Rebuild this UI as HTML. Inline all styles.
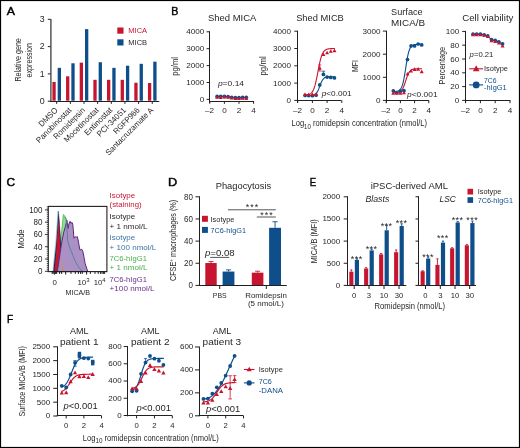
<!DOCTYPE html>
<html><head><meta charset="utf-8"><style>
html,body{margin:0;padding:0;background:#fff;}
svg{display:block;will-change:transform;fill:#231f20;}
text{font-family:"Liberation Sans",sans-serif;}
</style></head><body>
<svg width="520" height="448" viewBox="0 0 520 448">
<rect x="0.5" y="0.5" width="519" height="447" fill="#fff" stroke="#000" stroke-width="1.2"/>
<text x="6.8" y="15" font-size="10.1" textLength="8.2" lengthAdjust="spacingAndGlyphs" fill="#000" stroke="#000" stroke-width="0.4" stroke-linejoin="round">A</text>
<line x1="50.9" y1="19" x2="50.9" y2="101.8" stroke="#4a4a4a" stroke-width="1.4"/>
<line x1="47.8" y1="101.2" x2="50.6" y2="101.2" stroke="#231f20" stroke-width="1"/>
<text x="44.6" y="103.85" font-size="8.8" text-anchor="end">0</text>
<line x1="47.8" y1="73.9" x2="50.6" y2="73.9" stroke="#231f20" stroke-width="1"/>
<text x="44.6" y="76.55" font-size="8.8" text-anchor="end">1</text>
<line x1="47.8" y1="46.6" x2="50.6" y2="46.6" stroke="#231f20" stroke-width="1"/>
<text x="44.6" y="49.25" font-size="8.8" text-anchor="end">2</text>
<line x1="47.8" y1="19.3" x2="50.6" y2="19.3" stroke="#231f20" stroke-width="1"/>
<text x="44.6" y="21.95" font-size="8.8" text-anchor="end">3</text>
<line x1="50.1" y1="101.5" x2="159.3" y2="101.5" stroke="#231f20" stroke-width="1.05"/>
<line x1="56.7" y1="101.3" x2="56.7" y2="103.9" stroke="#231f20" stroke-width="1"/>
<rect x="52.4" y="81.94" width="3.3" height="18.76" fill="#c8152f"/>
<rect x="57.7" y="67.86" width="3.3" height="32.84" fill="#0d4e8b"/>
<text transform="translate(58.3 110.7) rotate(-45)" x="0" y="0" font-size="8.1" textLength="23.4" lengthAdjust="spacingAndGlyphs" text-anchor="end">DMSO</text>
<line x1="70.35" y1="101.3" x2="70.35" y2="103.9" stroke="#231f20" stroke-width="1"/>
<rect x="66.05" y="76.32" width="3.3" height="24.38" fill="#c8152f"/>
<rect x="71.35" y="63.28" width="3.3" height="37.42" fill="#0d4e8b"/>
<text transform="translate(71.95 110.7) rotate(-45)" x="0" y="0" font-size="8.1" textLength="46.4" lengthAdjust="spacingAndGlyphs" text-anchor="end">Panobinostat</text>
<line x1="84" y1="101.3" x2="84" y2="103.9" stroke="#231f20" stroke-width="1"/>
<rect x="79.7" y="62.67" width="3.3" height="38.03" fill="#c8152f"/>
<rect x="85" y="29.13" width="3.3" height="71.57" fill="#0d4e8b"/>
<text transform="translate(85.6 110.7) rotate(-45)" x="0" y="0" font-size="8.1" textLength="41" lengthAdjust="spacingAndGlyphs" text-anchor="end">Romidepsin</text>
<line x1="97.65" y1="101.3" x2="97.65" y2="103.9" stroke="#231f20" stroke-width="1"/>
<rect x="93.35" y="79.8" width="3.3" height="20.9" fill="#c8152f"/>
<rect x="98.65" y="62.21" width="3.3" height="38.49" fill="#0d4e8b"/>
<text transform="translate(99.25 110.7) rotate(-45)" x="0" y="0" font-size="8.1" textLength="45.5" lengthAdjust="spacingAndGlyphs" text-anchor="end">Mocetinostat</text>
<line x1="111.3" y1="101.3" x2="111.3" y2="103.9" stroke="#231f20" stroke-width="1"/>
<rect x="107" y="79.8" width="3.3" height="20.9" fill="#c8152f"/>
<rect x="112.3" y="67.86" width="3.3" height="32.84" fill="#0d4e8b"/>
<text transform="translate(112.9 110.7) rotate(-45)" x="0" y="0" font-size="8.1" textLength="35.8" lengthAdjust="spacingAndGlyphs" text-anchor="end">Entinostat</text>
<line x1="124.95" y1="101.3" x2="124.95" y2="103.9" stroke="#231f20" stroke-width="1"/>
<rect x="120.65" y="79.8" width="3.3" height="20.9" fill="#c8152f"/>
<rect x="125.95" y="65.7" width="3.3" height="35" fill="#0d4e8b"/>
<text transform="translate(126.55 110.7) rotate(-45)" x="0" y="0" font-size="8.1" textLength="37.4" lengthAdjust="spacingAndGlyphs" text-anchor="end">PCI-34051</text>
<line x1="138.6" y1="101.3" x2="138.6" y2="103.9" stroke="#231f20" stroke-width="1"/>
<rect x="134.3" y="82.74" width="3.3" height="17.96" fill="#c8152f"/>
<rect x="139.6" y="63.82" width="3.3" height="36.88" fill="#0d4e8b"/>
<text transform="translate(140.2 110.7) rotate(-45)" x="0" y="0" font-size="8.1" textLength="33.6" lengthAdjust="spacingAndGlyphs" text-anchor="end">RGFP966</text>
<line x1="152.25" y1="101.3" x2="152.25" y2="103.9" stroke="#231f20" stroke-width="1"/>
<rect x="147.95" y="83.01" width="3.3" height="17.69" fill="#c8152f"/>
<rect x="153.25" y="61.67" width="3.3" height="39.03" fill="#0d4e8b"/>
<text transform="translate(153.85 110.7) rotate(-45)" x="0" y="0" font-size="8.1" textLength="63.8" lengthAdjust="spacingAndGlyphs" text-anchor="end">Santacruzamate A</text>
<rect x="117.3" y="27.5" width="6.2" height="6.2" fill="#c8152f"/>
<rect x="117.3" y="39.3" width="6.2" height="6.2" fill="#0d4e8b"/>
<text x="128.3" y="33.4" font-size="7.4" textLength="18.8" lengthAdjust="spacingAndGlyphs" fill="#c8152f">MICA</text>
<text x="128.3" y="45.2" font-size="7.4" textLength="18.8" lengthAdjust="spacingAndGlyphs">MICB</text>
<text transform="translate(21.4 59.9) rotate(-90)" x="0" y="0" font-size="9.2" textLength="43.4" lengthAdjust="spacingAndGlyphs" text-anchor="middle">Relative gene</text>
<text transform="translate(31.9 60.2) rotate(-90)" x="0" y="0" font-size="9.2" textLength="34.4" lengthAdjust="spacingAndGlyphs" text-anchor="middle">expression</text>
<text x="171.2" y="15" font-size="10.1" textLength="7.1" lengthAdjust="spacingAndGlyphs" fill="#000" stroke="#000" stroke-width="0.4" stroke-linejoin="round">B</text>
<line x1="209.5" y1="31.3" x2="209.5" y2="102.8" stroke="#231f20" stroke-width="1.05"/>
<line x1="206.6" y1="99.4" x2="209.8" y2="99.4" stroke="#231f20" stroke-width="1"/>
<text x="204.2" y="102" font-size="8.1" text-anchor="end">0</text>
<line x1="206.6" y1="82.5" x2="209.8" y2="82.5" stroke="#231f20" stroke-width="1"/>
<text x="204.2" y="85.1" font-size="8.1" text-anchor="end">1000</text>
<line x1="206.6" y1="65.6" x2="209.8" y2="65.6" stroke="#231f20" stroke-width="1"/>
<text x="204.2" y="68.2" font-size="8.1" text-anchor="end">2000</text>
<line x1="206.6" y1="48.7" x2="209.8" y2="48.7" stroke="#231f20" stroke-width="1"/>
<text x="204.2" y="51.3" font-size="8.1" text-anchor="end">3000</text>
<line x1="206.6" y1="31.8" x2="209.8" y2="31.8" stroke="#231f20" stroke-width="1"/>
<text x="204.2" y="34.4" font-size="8.1" text-anchor="end">4000</text>
<line x1="209.3" y1="101.5" x2="254" y2="101.5" stroke="#231f20" stroke-width="1.05"/>
<line x1="209.8" y1="101.2" x2="209.8" y2="103.8" stroke="#231f20" stroke-width="1"/>
<text x="209.6" y="113.2" font-size="8.1" text-anchor="middle">&#8211;2</text>
<line x1="224.4" y1="101.2" x2="224.4" y2="103.8" stroke="#231f20" stroke-width="1"/>
<text x="224.4" y="113.2" font-size="8.1" text-anchor="middle">0</text>
<line x1="239" y1="101.2" x2="239" y2="103.8" stroke="#231f20" stroke-width="1"/>
<text x="239" y="113.2" font-size="8.1" text-anchor="middle">2</text>
<line x1="253.6" y1="101.2" x2="253.6" y2="103.8" stroke="#231f20" stroke-width="1"/>
<text x="253.6" y="113.2" font-size="8.1" text-anchor="middle">4</text>
<text x="232.2" y="21.1" font-size="9.9" textLength="48.5" lengthAdjust="spacingAndGlyphs" text-anchor="middle">Shed MICA</text>
<text transform="translate(178 66.4) rotate(-90)" x="0" y="0" font-size="9.6" textLength="18.8" lengthAdjust="spacingAndGlyphs" text-anchor="middle">pg/ml</text>
<text x="217.9" y="86.4" font-size="7.8" textLength="26.2" lengthAdjust="spacingAndGlyphs"><tspan font-style="italic">p</tspan>=0.14</text>
<path d="M217.1 96.44 L220.75 96.27 L224.4 96.44 L228.05 96.61 L231.7 97.29 L235.35 97.63 L239 97.63 L242.65 97.46 L246.3 97.29" fill="none" stroke="#0d4e8b" stroke-width="0.9" stroke-linejoin="round" stroke-linecap="round"/>
<path d="M217.1 96.87 L220.75 97.03 L224.4 96.53 L228.05 96.87 L231.7 97.54 L235.35 98.05 L239 98.05 L242.65 97.88 L246.3 98.05" fill="none" stroke="#c8152f" stroke-width="0.9" stroke-linejoin="round" stroke-linecap="round"/>
<circle cx="217.1" cy="96.44" r="1.85" fill="#0d4e8b"/>
<circle cx="220.75" cy="96.27" r="1.85" fill="#0d4e8b"/>
<circle cx="224.4" cy="96.44" r="1.85" fill="#0d4e8b"/>
<circle cx="228.05" cy="96.61" r="1.85" fill="#0d4e8b"/>
<circle cx="231.7" cy="97.29" r="1.85" fill="#0d4e8b"/>
<circle cx="235.35" cy="97.63" r="1.85" fill="#0d4e8b"/>
<circle cx="239" cy="97.63" r="1.85" fill="#0d4e8b"/>
<circle cx="242.65" cy="97.46" r="1.85" fill="#0d4e8b"/>
<circle cx="246.3" cy="97.29" r="1.85" fill="#0d4e8b"/>
<path d="M217.1 95.21L219.1 98.81L215.1 98.81Z" fill="#c8152f"/>
<path d="M220.75 95.37L222.75 98.97L218.75 98.97Z" fill="#c8152f"/>
<path d="M224.4 94.87L226.4 98.47L222.4 98.47Z" fill="#c8152f"/>
<path d="M228.05 95.21L230.05 98.81L226.05 98.81Z" fill="#c8152f"/>
<path d="M231.7 95.88L233.7 99.48L229.7 99.48Z" fill="#c8152f"/>
<path d="M235.35 96.39L237.35 99.99L233.35 99.99Z" fill="#c8152f"/>
<path d="M239 96.39L241 99.99L237 99.99Z" fill="#c8152f"/>
<path d="M242.65 96.22L244.65 99.82L240.65 99.82Z" fill="#c8152f"/>
<path d="M246.3 96.39L248.3 99.99L244.3 99.99Z" fill="#c8152f"/>
<line x1="297.5" y1="30.7" x2="297.5" y2="102.8" stroke="#231f20" stroke-width="1.05"/>
<line x1="294.3" y1="100.4" x2="297.5" y2="100.4" stroke="#231f20" stroke-width="1"/>
<text x="291" y="103" font-size="8.1" text-anchor="end">0</text>
<line x1="294.3" y1="83.1" x2="297.5" y2="83.1" stroke="#231f20" stroke-width="1"/>
<text x="291" y="85.7" font-size="8.1" text-anchor="end">1000</text>
<line x1="294.3" y1="65.8" x2="297.5" y2="65.8" stroke="#231f20" stroke-width="1"/>
<text x="291" y="68.4" font-size="8.1" text-anchor="end">2000</text>
<line x1="294.3" y1="48.5" x2="297.5" y2="48.5" stroke="#231f20" stroke-width="1"/>
<text x="291" y="51.1" font-size="8.1" text-anchor="end">3000</text>
<line x1="294.3" y1="31.2" x2="297.5" y2="31.2" stroke="#231f20" stroke-width="1"/>
<text x="291" y="33.8" font-size="8.1" text-anchor="end">4000</text>
<line x1="297" y1="100.5" x2="341.5" y2="100.5" stroke="#231f20" stroke-width="1.05"/>
<line x1="297.7" y1="100.4" x2="297.7" y2="103" stroke="#231f20" stroke-width="1"/>
<text x="297.5" y="113.2" font-size="8.1" text-anchor="middle">&#8211;2</text>
<line x1="312.4" y1="100.4" x2="312.4" y2="103" stroke="#231f20" stroke-width="1"/>
<text x="312.4" y="113.2" font-size="8.1" text-anchor="middle">0</text>
<line x1="327.1" y1="100.4" x2="327.1" y2="103" stroke="#231f20" stroke-width="1"/>
<text x="327.1" y="113.2" font-size="8.1" text-anchor="middle">2</text>
<line x1="341.8" y1="100.4" x2="341.8" y2="103" stroke="#231f20" stroke-width="1"/>
<text x="341.8" y="113.2" font-size="8.1" text-anchor="middle">4</text>
<text x="320" y="21.1" font-size="9.9" textLength="47.7" lengthAdjust="spacingAndGlyphs" text-anchor="middle">Shed MICB</text>
<text transform="translate(266.2 65.9) rotate(-90)" x="0" y="0" font-size="9.6" textLength="19.2" lengthAdjust="spacingAndGlyphs" text-anchor="middle">pg/ml</text>
<path d="M305.05 95.72 L305.54 95.72 L306.03 95.72 L306.52 95.72 L307.01 95.71 L307.5 95.71 L307.99 95.7 L308.48 95.7 L308.97 95.69 L309.46 95.67 L309.95 95.65 L310.44 95.63 L310.93 95.6 L311.42 95.56 L311.91 95.5 L312.4 95.43 L312.89 95.34 L313.38 95.22 L313.87 95.06 L314.36 94.86 L314.85 94.6 L315.34 94.27 L315.83 93.85 L316.32 93.33 L316.81 92.68 L317.3 91.91 L317.79 91 L318.28 89.95 L318.77 88.78 L319.26 87.52 L319.75 86.21 L320.24 84.91 L320.73 83.65 L321.22 82.48 L321.71 81.43 L322.2 80.52 L322.69 79.74 L323.18 79.1 L323.67 78.58 L324.16 78.16 L324.65 77.83 L325.14 77.57 L325.63 77.37 L326.12 77.21 L326.61 77.09 L327.1 77 L327.59 76.93 L328.08 76.87 L328.57 76.83 L329.06 76.8 L329.55 76.77 L330.04 76.76 L330.53 76.74 L331.02 76.73 L331.51 76.72 L332 76.72 L332.49 76.71 L332.98 76.71 L333.47 76.71 L333.96 76.71 L334.45 76.7" fill="none" stroke="#0d4e8b" stroke-width="1.1" stroke-linejoin="round" stroke-linecap="round"/>
<path d="M305.05 95.07 L305.54 95.04 L306.03 95 L306.52 94.95 L307.01 94.88 L307.5 94.8 L307.99 94.7 L308.48 94.58 L308.97 94.42 L309.46 94.23 L309.95 93.99 L310.44 93.69 L310.93 93.33 L311.42 92.89 L311.91 92.34 L312.4 91.68 L312.89 90.88 L313.38 89.92 L313.87 88.79 L314.36 87.45 L314.85 85.9 L315.34 84.13 L315.83 82.15 L316.32 79.95 L316.81 77.58 L317.3 75.08 L317.79 72.5 L318.28 69.91 L318.77 67.36 L319.26 64.92 L319.75 62.64 L320.24 60.54 L320.73 58.66 L321.22 57 L321.71 55.56 L322.2 54.33 L322.69 53.29 L323.18 52.41 L323.67 51.68 L324.16 51.08 L324.65 50.59 L325.14 50.19 L325.63 49.86 L326.12 49.6 L326.61 49.38 L327.1 49.21 L327.59 49.07 L328.08 48.96 L328.57 48.87 L329.06 48.79 L329.55 48.74 L330.04 48.69 L330.53 48.65 L331.02 48.62 L331.51 48.6 L332 48.58 L332.49 48.56 L332.98 48.55 L333.47 48.54 L333.96 48.53 L334.45 48.53" fill="none" stroke="#c8152f" stroke-width="1.1" stroke-linejoin="round" stroke-linecap="round"/>
<line x1="323.42" y1="74.4" x2="323.42" y2="71.16" stroke="#0d4e8b" stroke-width="0.8"/>
<line x1="321.62" y1="71.16" x2="325.22" y2="71.16" stroke="#0d4e8b" stroke-width="0.8"/>
<line x1="319.75" y1="67.7" x2="319.75" y2="64.94" stroke="#c8152f" stroke-width="0.8"/>
<line x1="318.25" y1="64.94" x2="321.25" y2="64.94" stroke="#c8152f" stroke-width="0.8"/>
<line x1="319.75" y1="67.7" x2="319.75" y2="70.99" stroke="#c8152f" stroke-width="0.8"/>
<line x1="318.25" y1="70.99" x2="321.25" y2="70.99" stroke="#c8152f" stroke-width="0.8"/>
<circle cx="305.05" cy="95.38" r="1.85" fill="#0d4e8b"/>
<circle cx="308.72" cy="95.56" r="1.85" fill="#0d4e8b"/>
<circle cx="312.4" cy="95.73" r="1.85" fill="#0d4e8b"/>
<circle cx="316.07" cy="95.21" r="1.85" fill="#0d4e8b"/>
<circle cx="319.75" cy="84.9" r="1.85" fill="#0d4e8b"/>
<circle cx="323.42" cy="74.4" r="1.85" fill="#0d4e8b"/>
<circle cx="327.1" cy="77.1" r="1.85" fill="#0d4e8b"/>
<circle cx="330.77" cy="77.39" r="1.85" fill="#0d4e8b"/>
<circle cx="334.45" cy="77.91" r="1.85" fill="#0d4e8b"/>
<path d="M305.05 92.51L307.05 96.11L303.05 96.11Z" fill="#c8152f"/>
<path d="M308.72 92.51L310.72 96.11L306.72 96.11Z" fill="#c8152f"/>
<path d="M312.4 92.44L314.4 96.04L310.4 96.04Z" fill="#c8152f"/>
<path d="M316.07 92.17L318.07 95.77L314.07 95.77Z" fill="#c8152f"/>
<path d="M319.75 66.04L321.75 69.64L317.75 69.64Z" fill="#c8152f"/>
<path d="M323.42 52.38L325.42 55.98L321.42 55.98Z" fill="#c8152f"/>
<path d="M327.1 50.65L329.1 54.25L325.1 54.25Z" fill="#c8152f"/>
<path d="M330.77 49.26L332.77 52.86L328.77 52.86Z" fill="#c8152f"/>
<path d="M334.45 48.57L336.45 52.17L332.45 52.17Z" fill="#c8152f"/>
<text x="321.7" y="96.4" font-size="7.8" textLength="30" lengthAdjust="spacingAndGlyphs"><tspan font-style="italic">p</tspan>&lt;0.001</text>
<line x1="386.5" y1="30.6" x2="386.5" y2="102.8" stroke="#231f20" stroke-width="1.05"/>
<line x1="382.9" y1="100.4" x2="386.1" y2="100.4" stroke="#231f20" stroke-width="1"/>
<text x="380.5" y="103" font-size="8.1" text-anchor="end">0</text>
<line x1="382.9" y1="77.3" x2="386.1" y2="77.3" stroke="#231f20" stroke-width="1"/>
<text x="380.5" y="79.9" font-size="8.1" text-anchor="end">1000</text>
<line x1="382.9" y1="54.2" x2="386.1" y2="54.2" stroke="#231f20" stroke-width="1"/>
<text x="380.5" y="56.8" font-size="8.1" text-anchor="end">2000</text>
<line x1="382.9" y1="31.1" x2="386.1" y2="31.1" stroke="#231f20" stroke-width="1"/>
<text x="380.5" y="33.7" font-size="8.1" text-anchor="end">3000</text>
<line x1="385.6" y1="100.5" x2="429" y2="100.5" stroke="#231f20" stroke-width="1.05"/>
<line x1="386.2" y1="100.6" x2="386.2" y2="103.2" stroke="#231f20" stroke-width="1"/>
<text x="386" y="113.2" font-size="8.1" text-anchor="middle">&#8211;2</text>
<line x1="400.4" y1="100.6" x2="400.4" y2="103.2" stroke="#231f20" stroke-width="1"/>
<text x="400.4" y="113.2" font-size="8.1" text-anchor="middle">0</text>
<line x1="414.6" y1="100.6" x2="414.6" y2="103.2" stroke="#231f20" stroke-width="1"/>
<text x="414.6" y="113.2" font-size="8.1" text-anchor="middle">2</text>
<line x1="428.8" y1="100.6" x2="428.8" y2="103.2" stroke="#231f20" stroke-width="1"/>
<text x="428.8" y="113.2" font-size="8.1" text-anchor="middle">4</text>
<text x="391.1" y="14.6" font-size="9.9" textLength="31.6" lengthAdjust="spacingAndGlyphs">Surface</text>
<text x="391.1" y="25.9" font-size="9.9" textLength="34" lengthAdjust="spacingAndGlyphs">MICA/B</text>
<text transform="translate(357.6 66) rotate(-90)" x="0" y="0" font-size="9.6" textLength="11.9" lengthAdjust="spacingAndGlyphs" text-anchor="middle">MFI</text>
<path d="M393.3 91.57 L393.77 91.56 L394.25 91.54 L394.72 91.51 L395.19 91.48 L395.67 91.44 L396.14 91.38 L396.61 91.31 L397.09 91.22 L397.56 91.1 L398.03 90.95 L398.51 90.75 L398.98 90.5 L399.45 90.18 L399.93 89.76 L400.4 89.23 L400.87 88.57 L401.35 87.73 L401.82 86.69 L402.29 85.42 L402.77 83.87 L403.24 82.03 L403.71 79.88 L404.19 77.42 L404.66 74.7 L405.13 71.77 L405.61 68.72 L406.08 65.63 L406.55 62.63 L407.03 59.8 L407.5 57.2 L407.97 54.9 L408.45 52.9 L408.92 51.21 L409.39 49.8 L409.87 48.65 L410.34 47.71 L410.81 46.97 L411.29 46.38 L411.76 45.91 L412.23 45.54 L412.71 45.25 L413.18 45.03 L413.65 44.86 L414.13 44.72 L414.6 44.62 L415.07 44.54 L415.55 44.48 L416.02 44.43 L416.49 44.39 L416.97 44.36 L417.44 44.34 L417.91 44.32 L418.39 44.31 L418.86 44.3 L419.33 44.29 L419.81 44.29 L420.28 44.28 L420.75 44.28 L421.23 44.28 L421.7 44.27" fill="none" stroke="#0d4e8b" stroke-width="1.1" stroke-linejoin="round" stroke-linecap="round"/>
<path d="M393.3 92.74 L393.77 92.73 L394.25 92.71 L394.72 92.7 L395.19 92.68 L395.67 92.65 L396.14 92.61 L396.61 92.57 L397.09 92.51 L397.56 92.43 L398.03 92.34 L398.51 92.22 L398.98 92.07 L399.45 91.88 L399.93 91.65 L400.4 91.35 L400.87 90.98 L401.35 90.53 L401.82 89.98 L402.29 89.31 L402.77 88.52 L403.24 87.59 L403.71 86.52 L404.19 85.32 L404.66 84 L405.13 82.59 L405.61 81.13 L406.08 79.66 L406.55 78.22 L407.03 76.86 L407.5 75.59 L407.97 74.46 L408.45 73.46 L408.92 72.6 L409.39 71.87 L409.87 71.26 L410.34 70.76 L410.81 70.35 L411.29 70.02 L411.76 69.76 L412.23 69.55 L412.71 69.38 L413.18 69.24 L413.65 69.14 L414.13 69.06 L414.6 68.99 L415.07 68.94 L415.55 68.9 L416.02 68.87 L416.49 68.84 L416.97 68.82 L417.44 68.81 L417.91 68.8 L418.39 68.79 L418.86 68.78 L419.33 68.77 L419.81 68.77 L420.28 68.77 L420.75 68.76 L421.23 68.76 L421.7 68.76" fill="none" stroke="#c8152f" stroke-width="1.1" stroke-linejoin="round" stroke-linecap="round"/>
<circle cx="393.3" cy="90.81" r="1.85" fill="#0d4e8b"/>
<circle cx="396.85" cy="92.78" r="1.85" fill="#0d4e8b"/>
<circle cx="400.4" cy="91.16" r="1.85" fill="#0d4e8b"/>
<circle cx="403.95" cy="90.7" r="1.85" fill="#0d4e8b"/>
<circle cx="407.5" cy="59.61" r="1.85" fill="#0d4e8b"/>
<circle cx="411.05" cy="45.88" r="1.85" fill="#0d4e8b"/>
<circle cx="414.6" cy="45.88" r="1.85" fill="#0d4e8b"/>
<circle cx="418.15" cy="44.01" r="1.85" fill="#0d4e8b"/>
<circle cx="421.7" cy="44.96" r="1.85" fill="#0d4e8b"/>
<path d="M393.3 91.12L395.3 94.72L391.3 94.72Z" fill="#c8152f"/>
<path d="M396.85 90.89L398.85 94.49L394.85 94.49Z" fill="#c8152f"/>
<path d="M400.4 91.12L402.4 94.72L398.4 94.72Z" fill="#c8152f"/>
<path d="M403.95 90.66L405.95 94.25L401.95 94.25Z" fill="#c8152f"/>
<path d="M407.5 71.94L409.5 75.54L405.5 75.54Z" fill="#c8152f"/>
<path d="M411.05 68.94L413.05 72.54L409.05 72.54Z" fill="#c8152f"/>
<path d="M414.6 67.32L416.6 70.92L412.6 70.92Z" fill="#c8152f"/>
<path d="M418.15 67.09L420.15 70.69L416.15 70.69Z" fill="#c8152f"/>
<path d="M421.7 69.54L423.7 73.14L419.7 73.14Z" fill="#c8152f"/>
<text x="407" y="97.4" font-size="7.8" textLength="30.6" lengthAdjust="spacingAndGlyphs"><tspan font-style="italic">p</tspan>&lt;0.001</text>
<line x1="465.5" y1="30.9" x2="465.5" y2="102.8" stroke="#231f20" stroke-width="1.05"/>
<line x1="462.2" y1="100.4" x2="465.4" y2="100.4" stroke="#231f20" stroke-width="1"/>
<text x="459.2" y="103" font-size="8.1" text-anchor="end">0</text>
<line x1="462.2" y1="86.6" x2="465.4" y2="86.6" stroke="#231f20" stroke-width="1"/>
<text x="459.2" y="89.2" font-size="8.1" text-anchor="end">20</text>
<line x1="462.2" y1="72.8" x2="465.4" y2="72.8" stroke="#231f20" stroke-width="1"/>
<text x="459.2" y="75.4" font-size="8.1" text-anchor="end">40</text>
<line x1="462.2" y1="59" x2="465.4" y2="59" stroke="#231f20" stroke-width="1"/>
<text x="459.2" y="61.6" font-size="8.1" text-anchor="end">60</text>
<line x1="462.2" y1="45.2" x2="465.4" y2="45.2" stroke="#231f20" stroke-width="1"/>
<text x="459.2" y="47.8" font-size="8.1" text-anchor="end">80</text>
<line x1="462.2" y1="31.4" x2="465.4" y2="31.4" stroke="#231f20" stroke-width="1"/>
<text x="459.2" y="34" font-size="8.1" text-anchor="end">100</text>
<line x1="464.9" y1="100.5" x2="510.4" y2="100.5" stroke="#231f20" stroke-width="1.05"/>
<line x1="465.6" y1="100.6" x2="465.6" y2="103.2" stroke="#231f20" stroke-width="1"/>
<text x="465.4" y="113.2" font-size="8.1" text-anchor="middle">&#8211;2</text>
<line x1="480.4" y1="100.6" x2="480.4" y2="103.2" stroke="#231f20" stroke-width="1"/>
<text x="480.4" y="113.2" font-size="8.1" text-anchor="middle">0</text>
<line x1="495.2" y1="100.6" x2="495.2" y2="103.2" stroke="#231f20" stroke-width="1"/>
<text x="495.2" y="113.2" font-size="8.1" text-anchor="middle">2</text>
<line x1="510" y1="100.6" x2="510" y2="103.2" stroke="#231f20" stroke-width="1"/>
<text x="510" y="113.2" font-size="8.1" text-anchor="middle">4</text>
<text x="487.8" y="21.1" font-size="9.9" textLength="51.3" lengthAdjust="spacingAndGlyphs" text-anchor="middle">Cell viability</text>
<text transform="translate(444.7 65.6) rotate(-90)" x="0" y="0" font-size="9.4" textLength="37.6" lengthAdjust="spacingAndGlyphs" text-anchor="middle">Percentage</text>
<path d="M473 34.16 L476.7 34.16 L480.4 34.16 L484.1 34.85 L487.8 35.95 L491.5 39.68 L495.2 40.37 L498.9 41.75 L502.6 43.82" fill="none" stroke="#0d4e8b" stroke-width="0.9" stroke-linejoin="round" stroke-linecap="round"/>
<path d="M473 34.23 L476.7 34.23 L480.4 34.23 L484.1 34.85 L487.8 35.95 L491.5 40.23 L495.2 40.99 L498.9 42.58 L502.6 45.68" fill="none" stroke="#c8152f" stroke-width="0.9" stroke-linejoin="round" stroke-linecap="round"/>
<circle cx="473" cy="34.16" r="1.85" fill="#0d4e8b"/>
<circle cx="476.7" cy="34.16" r="1.85" fill="#0d4e8b"/>
<circle cx="480.4" cy="34.16" r="1.85" fill="#0d4e8b"/>
<circle cx="484.1" cy="34.85" r="1.85" fill="#0d4e8b"/>
<circle cx="487.8" cy="35.95" r="1.85" fill="#0d4e8b"/>
<circle cx="491.5" cy="39.68" r="1.85" fill="#0d4e8b"/>
<circle cx="495.2" cy="40.37" r="1.85" fill="#0d4e8b"/>
<circle cx="498.9" cy="41.75" r="1.85" fill="#0d4e8b"/>
<circle cx="502.6" cy="43.82" r="1.85" fill="#0d4e8b"/>
<path d="M473 32.57L475 36.17L471 36.17Z" fill="#c8152f"/>
<path d="M476.7 32.57L478.7 36.17L474.7 36.17Z" fill="#c8152f"/>
<path d="M480.4 32.57L482.4 36.17L478.4 36.17Z" fill="#c8152f"/>
<path d="M484.1 33.19L486.1 36.79L482.1 36.79Z" fill="#c8152f"/>
<path d="M487.8 34.29L489.8 37.89L485.8 37.89Z" fill="#c8152f"/>
<path d="M491.5 38.57L493.5 42.17L489.5 42.17Z" fill="#c8152f"/>
<path d="M495.2 39.33L497.2 42.93L493.2 42.93Z" fill="#c8152f"/>
<path d="M498.9 40.92L500.9 44.52L496.9 44.52Z" fill="#c8152f"/>
<path d="M502.6 44.02L504.6 47.62L500.6 47.62Z" fill="#c8152f"/>
<text x="469.6" y="56.8" font-size="7.8" textLength="23.8" lengthAdjust="spacingAndGlyphs"><tspan font-style="italic">p</tspan>=0.21</text>
<line x1="469.2" y1="68.8" x2="483.1" y2="68.8" stroke="#c8152f" stroke-width="1.1"/>
<path d="M476.2 65.34L479.5 71.28L472.9 71.28Z" fill="#c8152f"/>
<text x="484" y="71.1" font-size="7.6" textLength="24" lengthAdjust="spacingAndGlyphs">Isotype</text>
<line x1="469.2" y1="84.9" x2="483.1" y2="84.9" stroke="#0d4e8b" stroke-width="1.1"/>
<circle cx="476.2" cy="84.9" r="3.4" fill="#0d4e8b"/>
<text x="484" y="82.7" font-size="7.4" textLength="12.5" lengthAdjust="spacingAndGlyphs" fill="#0d4e8b">7C6</text>
<text x="484" y="89.9" font-size="7.6" textLength="22.6" lengthAdjust="spacingAndGlyphs" fill="#0d4e8b">-hIgG1</text>
<text x="291.5" y="126.3" font-size="9.3" textLength="135.5" lengthAdjust="spacingAndGlyphs">Log<tspan font-size="7.4" dy="2.7">10</tspan><tspan dy="-2.7"> romidepsin concentration (nmol/L)</tspan></text>
<text x="6.6" y="186" font-size="10.1" textLength="8.6" lengthAdjust="spacingAndGlyphs" fill="#000" stroke="#000" stroke-width="0.4" stroke-linejoin="round">C</text>
<path d="M56.3 271.6 L58.6 255 L60.6 242 L62 228 L63.3 214.4 L64.5 215.7 L65.3 216.9 L66.1 218.9 L67 225 L68 240 L69 271.6Z" fill="#93dc8e" stroke="#3fae3f" stroke-width="0.7" stroke-linejoin="round"/>
<path d="M53.3 271.6 L55 255 L56.4 242 L57.5 225 L58.3 211.2 L59.2 220 L60.8 242 L61.6 260 L62 271.6Z" fill="#1c2452" stroke="#1c2452" stroke-width="0.5" stroke-linejoin="round"/>
<path d="M54.3 271.6 L55.5 260 L57 240 L57.9 227 L58.5 217.5 L59.4 230 L60.3 245 L61 260 L61.4 271.6Z" fill="#c8152f" stroke="none"/>
<path d="M57.3 271.6 L58.8 262 L60.5 250 L62 241 L63.8 232 L65.4 226.5 L66.9 220.1 L67.6 225 L68.1 228.5 L68.9 224 L70.1 221.3 L70.9 223.3 L72.1 222.5 L72.7 224 L73.3 229.3 L73.9 238.2 L75.3 236.6 L76.1 237.4 L77.1 236.4 L78.1 239.8 L79.9 250 L81 249.8 L81.7 249.2 L82.9 251.5 L85.2 263.7 L87.8 271.6Z" fill="#ab91c3" stroke="#5a2a7c" stroke-width="1" stroke-linejoin="round"/>
<path d="M61.2 263.3 L62.6 267.5 L64 271.6" fill="none" stroke="#e08a2c" stroke-width="0.8" stroke-linejoin="round"/>
<path d="M64.8 216.8 L66.1 219.3 L66.9 226.1 L67.3 232.5 L67.6 240.5 L69.5 247 L72 253 L74.2 259 L76.5 263.5 L78.5 267 L80.8 269.8 L83 271.6" fill="none" stroke="#4b7ea6" stroke-width="0.9" stroke-linejoin="round"/>
<path d="M52.8 271.6 L55.7 242 L58 212" fill="none" stroke="#6cc0e0" stroke-width="0.5" stroke-linejoin="round"/>
<rect x="48.3" y="206.4" width="58.6" height="65.2" fill="none" stroke="#231f20" stroke-width="1.1"/>
<line x1="44.9" y1="271.3" x2="48.3" y2="271.3" stroke="#444" stroke-width="1"/>
<text x="42.5" y="274.19" font-size="8.9" textLength="4.45" lengthAdjust="spacingAndGlyphs" text-anchor="end">0</text>
<line x1="44.9" y1="259.01" x2="48.3" y2="259.01" stroke="#444" stroke-width="1"/>
<text x="42.5" y="261.9" font-size="8.9" textLength="8.9" lengthAdjust="spacingAndGlyphs" text-anchor="end">20</text>
<line x1="44.9" y1="246.72" x2="48.3" y2="246.72" stroke="#444" stroke-width="1"/>
<text x="42.5" y="249.61" font-size="8.9" textLength="8.9" lengthAdjust="spacingAndGlyphs" text-anchor="end">40</text>
<line x1="44.9" y1="234.44" x2="48.3" y2="234.44" stroke="#444" stroke-width="1"/>
<text x="42.5" y="237.32" font-size="8.9" textLength="8.9" lengthAdjust="spacingAndGlyphs" text-anchor="end">60</text>
<line x1="44.9" y1="222.15" x2="48.3" y2="222.15" stroke="#444" stroke-width="1"/>
<text x="42.5" y="225.03" font-size="8.9" textLength="8.9" lengthAdjust="spacingAndGlyphs" text-anchor="end">80</text>
<line x1="44.9" y1="209.86" x2="48.3" y2="209.86" stroke="#444" stroke-width="1"/>
<text x="42.5" y="212.75" font-size="8.9" textLength="13.35" lengthAdjust="spacingAndGlyphs" text-anchor="end">100</text>
<line x1="47.3" y1="206.5" x2="47.3" y2="271.5" stroke="#231f20" stroke-width="1" stroke-dasharray="0.8 1.15"/>
<line x1="52.2" y1="271.6" x2="52.2" y2="273.9" stroke="#111" stroke-width="0.95"/>
<line x1="53.2" y1="271.6" x2="53.2" y2="273.9" stroke="#111" stroke-width="0.95"/>
<line x1="54.4" y1="271.6" x2="54.4" y2="274.6" stroke="#111" stroke-width="0.95"/>
<line x1="55.4" y1="271.6" x2="55.4" y2="273.9" stroke="#111" stroke-width="0.95"/>
<line x1="56.6" y1="271.6" x2="56.6" y2="273.9" stroke="#111" stroke-width="0.95"/>
<line x1="59.6" y1="271.6" x2="59.6" y2="273.9" stroke="#111" stroke-width="0.95"/>
<line x1="61.6" y1="271.6" x2="61.6" y2="273.9" stroke="#111" stroke-width="0.95"/>
<line x1="65.7" y1="271.6" x2="65.7" y2="274.6" stroke="#111" stroke-width="0.95"/>
<line x1="71" y1="271.6" x2="71" y2="273.9" stroke="#111" stroke-width="0.95"/>
<line x1="75.3" y1="271.6" x2="75.3" y2="273.9" stroke="#111" stroke-width="0.95"/>
<line x1="78.4" y1="271.6" x2="78.4" y2="273.9" stroke="#111" stroke-width="0.95"/>
<line x1="80.6" y1="271.6" x2="80.6" y2="273.9" stroke="#111" stroke-width="0.95"/>
<line x1="82.3" y1="271.6" x2="82.3" y2="273.9" stroke="#111" stroke-width="0.95"/>
<line x1="86.6" y1="271.6" x2="86.6" y2="274.6" stroke="#111" stroke-width="0.95"/>
<line x1="90.4" y1="271.6" x2="90.4" y2="273.9" stroke="#111" stroke-width="0.95"/>
<line x1="95" y1="271.6" x2="95" y2="273.9" stroke="#111" stroke-width="0.95"/>
<line x1="98.2" y1="271.6" x2="98.2" y2="273.9" stroke="#111" stroke-width="0.95"/>
<line x1="100.4" y1="271.6" x2="100.4" y2="273.9" stroke="#111" stroke-width="0.95"/>
<line x1="102" y1="271.6" x2="102" y2="273.9" stroke="#111" stroke-width="0.95"/>
<line x1="103.4" y1="271.6" x2="103.4" y2="273.9" stroke="#111" stroke-width="0.95"/>
<line x1="104.6" y1="271.6" x2="104.6" y2="273.9" stroke="#111" stroke-width="0.95"/>
<text x="54.8" y="285" font-size="7.9" text-anchor="middle">0</text>
<text x="77.4" y="285" font-size="7.9" textLength="12.2" lengthAdjust="spacingAndGlyphs">10<tspan font-size="6" dy="-3.2">3</tspan></text>
<text x="93.7" y="285" font-size="7.9" textLength="11.8" lengthAdjust="spacingAndGlyphs">10<tspan font-size="6" dy="-3.2">4</tspan></text>
<text x="77.8" y="295" font-size="7.9" textLength="24.6" lengthAdjust="spacingAndGlyphs" text-anchor="middle">MICA/B</text>
<text transform="translate(24.4 238.9) rotate(-90)" x="0" y="0" font-size="8.8" textLength="19" lengthAdjust="spacingAndGlyphs" text-anchor="middle">Mode</text>
<text x="109.6" y="197.8" font-size="7.6" textLength="25.6" lengthAdjust="spacingAndGlyphs" fill="#c8152f">Isotype</text>
<text x="109.6" y="206.6" font-size="7.6" textLength="32" lengthAdjust="spacingAndGlyphs" fill="#c8152f">(staining)</text>
<text x="109.6" y="218.9" font-size="7.6" textLength="25.6" lengthAdjust="spacingAndGlyphs">Isotype</text>
<text x="109.6" y="228.6" font-size="7.6" textLength="38" lengthAdjust="spacingAndGlyphs">+ 1 nmol/L</text>
<text x="109.6" y="240.2" font-size="7.6" textLength="25.6" lengthAdjust="spacingAndGlyphs" fill="#3d74a6">Isotype</text>
<text x="109.6" y="249.6" font-size="7.6" textLength="46.7" lengthAdjust="spacingAndGlyphs" fill="#3d74a6">+ 100 nmol/L</text>
<text x="109.6" y="260.9" font-size="7.6" textLength="37.3" lengthAdjust="spacingAndGlyphs" fill="#4cae4c">7C6-hIgG1</text>
<text x="109.6" y="270.4" font-size="7.6" textLength="38" lengthAdjust="spacingAndGlyphs" fill="#4cae4c">+ 1 nmol/L</text>
<text x="109.6" y="282" font-size="7.6" textLength="37.3" lengthAdjust="spacingAndGlyphs" fill="#6a2f86">7C6-hIgG1</text>
<text x="109.6" y="291.3" font-size="7.6" textLength="45" lengthAdjust="spacingAndGlyphs" fill="#6a2f86">+100 nmol/L</text>
<text x="168.1" y="185.9" font-size="10.1" textLength="9.2" lengthAdjust="spacingAndGlyphs" fill="#000" stroke="#000" stroke-width="0.4" stroke-linejoin="round">D</text>
<text x="215.7" y="189.4" font-size="9" textLength="55.5" lengthAdjust="spacingAndGlyphs">Phagocytosis</text>
<line x1="199.5" y1="196.3" x2="199.5" y2="285.9" stroke="#231f20" stroke-width="1.05"/>
<line x1="195.5" y1="285.4" x2="199.4" y2="285.4" stroke="#231f20" stroke-width="1"/>
<text x="193" y="288.49" font-size="9.2" textLength="4.45" lengthAdjust="spacingAndGlyphs" text-anchor="end">0</text>
<line x1="195.5" y1="263.25" x2="199.4" y2="263.25" stroke="#231f20" stroke-width="1"/>
<text x="193" y="266.34" font-size="9.2" textLength="8.9" lengthAdjust="spacingAndGlyphs" text-anchor="end">20</text>
<line x1="195.5" y1="241.1" x2="199.4" y2="241.1" stroke="#231f20" stroke-width="1"/>
<text x="193" y="244.19" font-size="9.2" textLength="8.9" lengthAdjust="spacingAndGlyphs" text-anchor="end">40</text>
<line x1="195.5" y1="218.95" x2="199.4" y2="218.95" stroke="#231f20" stroke-width="1"/>
<text x="193" y="222.04" font-size="9.2" textLength="8.9" lengthAdjust="spacingAndGlyphs" text-anchor="end">60</text>
<line x1="195.5" y1="196.8" x2="199.4" y2="196.8" stroke="#231f20" stroke-width="1"/>
<text x="193" y="199.89" font-size="9.2" textLength="8.9" lengthAdjust="spacingAndGlyphs" text-anchor="end">80</text>
<line x1="198.9" y1="285.5" x2="286.8" y2="285.5" stroke="#231f20" stroke-width="1.05"/>
<line x1="219.7" y1="285.4" x2="219.7" y2="289" stroke="#231f20" stroke-width="1"/>
<line x1="266.3" y1="285.4" x2="266.3" y2="289" stroke="#231f20" stroke-width="1"/>
<rect x="205.3" y="263.03" width="11.4" height="21.97" fill="#c8152f"/>
<line x1="211" y1="263.03" x2="211" y2="261.59" stroke="#c8152f" stroke-width="0.9"/>
<line x1="208.5" y1="261.59" x2="213.5" y2="261.59" stroke="#c8152f" stroke-width="0.9"/>
<rect x="222.6" y="271.56" width="11.8" height="13.44" fill="#0d4e8b"/>
<line x1="228.5" y1="271.56" x2="228.5" y2="269.89" stroke="#0d4e8b" stroke-width="0.9"/>
<line x1="226" y1="269.89" x2="231" y2="269.89" stroke="#0d4e8b" stroke-width="0.9"/>
<rect x="251.8" y="272.66" width="11.6" height="12.34" fill="#c8152f"/>
<line x1="257.6" y1="272.66" x2="257.6" y2="271.22" stroke="#c8152f" stroke-width="0.9"/>
<line x1="255.1" y1="271.22" x2="260.1" y2="271.22" stroke="#c8152f" stroke-width="0.9"/>
<rect x="269.1" y="227.81" width="11.9" height="57.19" fill="#0d4e8b"/>
<line x1="275.05" y1="227.81" x2="275.05" y2="221.72" stroke="#0d4e8b" stroke-width="0.9"/>
<line x1="272.45" y1="221.72" x2="277.65" y2="221.72" stroke="#0d4e8b" stroke-width="0.9"/>
<rect x="202" y="215.8" width="5.9" height="6" fill="#c8152f"/>
<rect x="202" y="226.9" width="5.9" height="6" fill="#0d4e8b"/>
<text x="210.5" y="221.6" font-size="7.7" textLength="23.9" lengthAdjust="spacingAndGlyphs">Isotype</text>
<text x="210.5" y="232.6" font-size="7.7" textLength="35.5" lengthAdjust="spacingAndGlyphs" fill="#0d4e8b">7C6-hIgG1</text>
<line x1="228" y1="209.8" x2="275.8" y2="209.8" stroke="#555" stroke-width="1"/>
<line x1="256.8" y1="217" x2="275.8" y2="217" stroke="#555" stroke-width="1"/>
<text x="247.5" y="210.32" font-size="9" text-anchor="middle">*</text>
<text x="252" y="210.32" font-size="9" text-anchor="middle">*</text>
<text x="256.5" y="210.32" font-size="9" text-anchor="middle">*</text>
<text x="261.9" y="217.72" font-size="9" text-anchor="middle">*</text>
<text x="266.4" y="217.72" font-size="9" text-anchor="middle">*</text>
<text x="270.9" y="217.72" font-size="9" text-anchor="middle">*</text>
<line x1="210.2" y1="257.4" x2="229.2" y2="257.4" stroke="#555" stroke-width="1"/>
<text x="205" y="256" font-size="8.6" textLength="29.7" lengthAdjust="spacingAndGlyphs"><tspan font-style="italic">p</tspan>=0.08</text>
<text x="219.7" y="297.8" font-size="7.7" textLength="13.8" lengthAdjust="spacingAndGlyphs" text-anchor="middle">PBS</text>
<text x="266" y="297.5" font-size="7.7" textLength="41.6" lengthAdjust="spacingAndGlyphs" text-anchor="middle">Romidepsin</text>
<text x="265.9" y="306.4" font-size="7.7" textLength="36" lengthAdjust="spacingAndGlyphs" text-anchor="middle">(5 nmol/L)</text>
<text transform="translate(175.8 240.45) rotate(-90)" x="0" y="0" font-size="9" textLength="81.3" lengthAdjust="spacingAndGlyphs" text-anchor="middle">CFSE<tspan font-size="6" dy="-3.2">+</tspan><tspan dy="3.2"> macrophages (%)</tspan></text>
<text x="309.8" y="186.4" font-size="10.1" textLength="6.4" lengthAdjust="spacingAndGlyphs" fill="#000" stroke="#000" stroke-width="0.4" stroke-linejoin="round">E</text>
<text x="370.7" y="188.8" font-size="9" textLength="77.2" lengthAdjust="spacingAndGlyphs">iPSC-derived AML</text>
<text x="365.4" y="202.1" font-size="8.6" font-style="italic" textLength="23.9" lengthAdjust="spacingAndGlyphs">Blasts</text>
<text x="439.6" y="202.1" font-size="8.6" font-style="italic" textLength="16.3" lengthAdjust="spacingAndGlyphs">LSC</text>
<line x1="347.5" y1="196.3" x2="347.5" y2="285.9" stroke="#231f20" stroke-width="1.05"/>
<line x1="343.7" y1="285.4" x2="347.7" y2="285.4" stroke="#231f20" stroke-width="1"/>
<text x="340.2" y="287.86" font-size="8" text-anchor="end">0</text>
<line x1="343.7" y1="263.25" x2="347.7" y2="263.25" stroke="#231f20" stroke-width="1"/>
<text x="340.2" y="265.71" font-size="8" text-anchor="end">500</text>
<line x1="343.7" y1="241.1" x2="347.7" y2="241.1" stroke="#231f20" stroke-width="1"/>
<text x="340.2" y="243.56" font-size="8" text-anchor="end">1000</text>
<line x1="343.7" y1="218.95" x2="347.7" y2="218.95" stroke="#231f20" stroke-width="1"/>
<text x="340.2" y="221.41" font-size="8" text-anchor="end">1500</text>
<line x1="343.7" y1="196.8" x2="347.7" y2="196.8" stroke="#231f20" stroke-width="1"/>
<text x="340.2" y="199.26" font-size="8" text-anchor="end">2000</text>
<line x1="347.2" y1="285.5" x2="406.3" y2="285.5" stroke="#231f20" stroke-width="1.05"/>
<line x1="354.2" y1="285.4" x2="354.2" y2="289" stroke="#231f20" stroke-width="1"/>
<text x="354.2" y="298.4" font-size="7.7" text-anchor="middle">0</text>
<rect x="349.3" y="271.67" width="4.1" height="13.33" fill="#c8152f"/>
<line x1="351.35" y1="271.67" x2="351.35" y2="269.89" stroke="#c8152f" stroke-width="0.9"/>
<line x1="350.25" y1="269.89" x2="352.45" y2="269.89" stroke="#c8152f" stroke-width="0.9"/>
<rect x="354.8" y="259.93" width="4.2" height="25.07" fill="#0d4e8b"/>
<line x1="356.9" y1="259.93" x2="356.9" y2="258.82" stroke="#0d4e8b" stroke-width="0.9"/>
<line x1="355.8" y1="258.82" x2="358" y2="258.82" stroke="#0d4e8b" stroke-width="0.9"/>
<text x="352.6" y="262.15" font-size="9" text-anchor="middle">*</text>
<text x="356.5" y="262.15" font-size="9" text-anchor="middle">*</text>
<text x="360.4" y="262.15" font-size="9" text-anchor="middle">*</text>
<line x1="369" y1="285.4" x2="369" y2="289" stroke="#231f20" stroke-width="1"/>
<text x="369" y="298.4" font-size="7.7" text-anchor="middle">3</text>
<rect x="364.1" y="268.48" width="4.1" height="16.52" fill="#c8152f"/>
<line x1="366.15" y1="268.48" x2="366.15" y2="267.68" stroke="#c8152f" stroke-width="0.9"/>
<line x1="365.05" y1="267.68" x2="367.25" y2="267.68" stroke="#c8152f" stroke-width="0.9"/>
<rect x="369.6" y="250.4" width="4.2" height="34.6" fill="#0d4e8b"/>
<line x1="371.7" y1="250.4" x2="371.7" y2="249.07" stroke="#0d4e8b" stroke-width="0.9"/>
<line x1="370.6" y1="249.07" x2="372.8" y2="249.07" stroke="#0d4e8b" stroke-width="0.9"/>
<text x="367.4" y="252.12" font-size="9" text-anchor="middle">*</text>
<text x="371.3" y="252.12" font-size="9" text-anchor="middle">*</text>
<text x="375.2" y="252.12" font-size="9" text-anchor="middle">*</text>
<line x1="384" y1="285.4" x2="384" y2="289" stroke="#231f20" stroke-width="1"/>
<text x="384" y="298.4" font-size="7.7" text-anchor="middle">10</text>
<rect x="379.1" y="254.39" width="4.1" height="30.61" fill="#c8152f"/>
<line x1="381.15" y1="254.39" x2="381.15" y2="253.5" stroke="#c8152f" stroke-width="0.9"/>
<line x1="380.05" y1="253.5" x2="382.25" y2="253.5" stroke="#c8152f" stroke-width="0.9"/>
<rect x="384.6" y="230.29" width="4.2" height="54.71" fill="#0d4e8b"/>
<line x1="386.7" y1="230.29" x2="386.7" y2="225.59" stroke="#0d4e8b" stroke-width="0.9"/>
<line x1="385.6" y1="225.59" x2="387.8" y2="225.59" stroke="#0d4e8b" stroke-width="0.9"/>
<text x="382.4" y="228.91" font-size="9" text-anchor="middle">*</text>
<text x="386.3" y="228.91" font-size="9" text-anchor="middle">*</text>
<text x="390.2" y="228.91" font-size="9" text-anchor="middle">*</text>
<line x1="399" y1="285.4" x2="399" y2="289" stroke="#231f20" stroke-width="1"/>
<text x="399" y="298.4" font-size="7.7" text-anchor="middle">30</text>
<rect x="394.1" y="252.17" width="4.1" height="32.82" fill="#c8152f"/>
<line x1="396.15" y1="252.17" x2="396.15" y2="249.96" stroke="#c8152f" stroke-width="0.9"/>
<line x1="395.05" y1="249.96" x2="397.25" y2="249.96" stroke="#c8152f" stroke-width="0.9"/>
<rect x="399.6" y="226.04" width="4.2" height="58.96" fill="#0d4e8b"/>
<line x1="401.7" y1="226.04" x2="401.7" y2="223.82" stroke="#0d4e8b" stroke-width="0.9"/>
<line x1="400.6" y1="223.82" x2="402.8" y2="223.82" stroke="#0d4e8b" stroke-width="0.9"/>
<text x="397.4" y="225.96" font-size="9" text-anchor="middle">*</text>
<text x="401.3" y="225.96" font-size="9" text-anchor="middle">*</text>
<text x="405.2" y="225.96" font-size="9" text-anchor="middle">*</text>
<line x1="418.5" y1="196.3" x2="418.5" y2="285.9" stroke="#231f20" stroke-width="1.05"/>
<line x1="415.5" y1="285.4" x2="418.9" y2="285.4" stroke="#231f20" stroke-width="1"/>
<line x1="415.5" y1="263.25" x2="418.9" y2="263.25" stroke="#231f20" stroke-width="1"/>
<line x1="415.5" y1="241.1" x2="418.9" y2="241.1" stroke="#231f20" stroke-width="1"/>
<line x1="415.5" y1="218.95" x2="418.9" y2="218.95" stroke="#231f20" stroke-width="1"/>
<line x1="415.5" y1="196.8" x2="418.9" y2="196.8" stroke="#231f20" stroke-width="1"/>
<line x1="418.4" y1="285.5" x2="476" y2="285.5" stroke="#231f20" stroke-width="1.05"/>
<line x1="425.5" y1="285.4" x2="425.5" y2="289" stroke="#231f20" stroke-width="1"/>
<text x="425.5" y="298.4" font-size="7.7" text-anchor="middle">0</text>
<rect x="420.6" y="271.22" width="4.1" height="13.78" fill="#c8152f"/>
<line x1="422.65" y1="271.22" x2="422.65" y2="270.78" stroke="#c8152f" stroke-width="0.9"/>
<line x1="421.55" y1="270.78" x2="423.75" y2="270.78" stroke="#c8152f" stroke-width="0.9"/>
<rect x="426.1" y="258.55" width="4.2" height="26.45" fill="#0d4e8b"/>
<line x1="428.2" y1="258.55" x2="428.2" y2="257.05" stroke="#0d4e8b" stroke-width="0.9"/>
<line x1="427.1" y1="257.05" x2="429.3" y2="257.05" stroke="#0d4e8b" stroke-width="0.9"/>
<text x="423.9" y="259.57" font-size="9" text-anchor="middle">*</text>
<text x="427.8" y="259.57" font-size="9" text-anchor="middle">*</text>
<text x="431.7" y="259.57" font-size="9" text-anchor="middle">*</text>
<line x1="440.3" y1="285.4" x2="440.3" y2="289" stroke="#231f20" stroke-width="1"/>
<text x="440.3" y="298.4" font-size="7.7" text-anchor="middle">3</text>
<rect x="435.4" y="264.84" width="4.1" height="20.16" fill="#c8152f"/>
<line x1="437.45" y1="264.84" x2="437.45" y2="258.82" stroke="#c8152f" stroke-width="0.9"/>
<line x1="436.35" y1="258.82" x2="438.55" y2="258.82" stroke="#c8152f" stroke-width="0.9"/>
<rect x="440.9" y="242.61" width="4.2" height="42.39" fill="#0d4e8b"/>
<line x1="443" y1="242.61" x2="443" y2="241.1" stroke="#0d4e8b" stroke-width="0.9"/>
<line x1="441.9" y1="241.1" x2="444.1" y2="241.1" stroke="#0d4e8b" stroke-width="0.9"/>
<text x="438.7" y="241.23" font-size="9" text-anchor="middle">*</text>
<text x="442.6" y="241.23" font-size="9" text-anchor="middle">*</text>
<text x="446.5" y="241.23" font-size="9" text-anchor="middle">*</text>
<line x1="455" y1="285.4" x2="455" y2="289" stroke="#231f20" stroke-width="1"/>
<text x="455" y="298.4" font-size="7.7" text-anchor="middle">10</text>
<rect x="450.1" y="248.32" width="4.1" height="36.68" fill="#c8152f"/>
<line x1="452.15" y1="248.32" x2="452.15" y2="247.74" stroke="#c8152f" stroke-width="0.9"/>
<line x1="451.05" y1="247.74" x2="453.25" y2="247.74" stroke="#c8152f" stroke-width="0.9"/>
<rect x="455.6" y="222.49" width="4.2" height="62.51" fill="#0d4e8b"/>
<line x1="457.7" y1="222.49" x2="457.7" y2="221.61" stroke="#0d4e8b" stroke-width="0.9"/>
<line x1="456.6" y1="221.61" x2="458.8" y2="221.61" stroke="#0d4e8b" stroke-width="0.9"/>
<text x="453.4" y="223.11" font-size="9" text-anchor="middle">*</text>
<text x="457.3" y="223.11" font-size="9" text-anchor="middle">*</text>
<text x="461.2" y="223.11" font-size="9" text-anchor="middle">*</text>
<line x1="469.7" y1="285.4" x2="469.7" y2="289" stroke="#231f20" stroke-width="1"/>
<text x="469.7" y="298.4" font-size="7.7" text-anchor="middle">30</text>
<rect x="464.8" y="245.31" width="4.1" height="39.69" fill="#c8152f"/>
<line x1="466.85" y1="245.31" x2="466.85" y2="244.64" stroke="#c8152f" stroke-width="0.9"/>
<line x1="465.75" y1="244.64" x2="467.95" y2="244.64" stroke="#c8152f" stroke-width="0.9"/>
<rect x="470.3" y="223.07" width="4.2" height="61.93" fill="#0d4e8b"/>
<line x1="472.4" y1="223.07" x2="472.4" y2="221.16" stroke="#0d4e8b" stroke-width="0.9"/>
<line x1="471.3" y1="221.16" x2="473.5" y2="221.16" stroke="#0d4e8b" stroke-width="0.9"/>
<text x="468.1" y="222.89" font-size="9" text-anchor="middle">*</text>
<text x="472" y="222.89" font-size="9" text-anchor="middle">*</text>
<text x="475.9" y="222.89" font-size="9" text-anchor="middle">*</text>
<rect x="467.5" y="188.8" width="5.6" height="5.7" fill="#c8152f"/>
<rect x="467.5" y="197.2" width="5.6" height="5.7" fill="#0d4e8b"/>
<text x="477.7" y="194.2" font-size="7.7" textLength="23.7" lengthAdjust="spacingAndGlyphs">Isotype</text>
<text x="477.7" y="202.6" font-size="7.7" textLength="35.3" lengthAdjust="spacingAndGlyphs" fill="#0d4e8b">7C6-hIgG1</text>
<text transform="translate(316.9 241.4) rotate(-90)" x="0" y="0" font-size="8.6" textLength="43.9" lengthAdjust="spacingAndGlyphs" text-anchor="middle">MICA/B (MFI)</text>
<text x="409.8" y="309.2" font-size="8.4" textLength="70.5" lengthAdjust="spacingAndGlyphs" text-anchor="middle">Romidepsin (nmol/L)</text>
<text x="7" y="323.1" font-size="10.1" textLength="6.2" lengthAdjust="spacingAndGlyphs" fill="#000" stroke="#000" stroke-width="0.4" stroke-linejoin="round">F</text>
<line x1="57.5" y1="346.3" x2="57.5" y2="416.3" stroke="#231f20" stroke-width="1.05"/>
<line x1="53.2" y1="416" x2="57.2" y2="416" stroke="#231f20" stroke-width="1"/>
<text x="50.2" y="418.36" font-size="8" text-anchor="end">0</text>
<line x1="53.2" y1="402.16" x2="57.2" y2="402.16" stroke="#231f20" stroke-width="1"/>
<text x="50.2" y="404.52" font-size="8" text-anchor="end">500</text>
<line x1="53.2" y1="388.32" x2="57.2" y2="388.32" stroke="#231f20" stroke-width="1"/>
<text x="50.2" y="390.68" font-size="8" text-anchor="end">1000</text>
<line x1="53.2" y1="374.48" x2="57.2" y2="374.48" stroke="#231f20" stroke-width="1"/>
<text x="50.2" y="376.84" font-size="8" text-anchor="end">1500</text>
<line x1="53.2" y1="360.64" x2="57.2" y2="360.64" stroke="#231f20" stroke-width="1"/>
<text x="50.2" y="363" font-size="8" text-anchor="end">2000</text>
<line x1="53.2" y1="346.8" x2="57.2" y2="346.8" stroke="#231f20" stroke-width="1"/>
<text x="50.2" y="349.16" font-size="8" text-anchor="end">2500</text>
<line x1="56.7" y1="415.5" x2="101.52" y2="415.5" stroke="#231f20" stroke-width="1.05"/>
<line x1="66.2" y1="415.8" x2="66.2" y2="418.4" stroke="#231f20" stroke-width="1"/>
<text x="66.2" y="428.1" font-size="7.7" text-anchor="middle">0</text>
<line x1="83.86" y1="415.8" x2="83.86" y2="418.4" stroke="#231f20" stroke-width="1"/>
<text x="83.86" y="428.1" font-size="7.7" text-anchor="middle">2</text>
<line x1="101.52" y1="415.8" x2="101.52" y2="418.4" stroke="#231f20" stroke-width="1"/>
<text x="101.52" y="428.1" font-size="7.7" text-anchor="middle">4</text>
<text x="79.2" y="333.6" font-size="9" text-anchor="middle">AML</text>
<text x="79.2" y="344.9" font-size="9" textLength="38.6" lengthAdjust="spacingAndGlyphs" text-anchor="middle">patient 1</text>
<line x1="75.03" y1="363.41" x2="75.03" y2="360.64" stroke="#0d4e8b" stroke-width="0.8"/>
<line x1="73.43" y1="360.64" x2="76.63" y2="360.64" stroke="#0d4e8b" stroke-width="0.8"/>
<line x1="75.03" y1="363.41" x2="75.03" y2="366.18" stroke="#0d4e8b" stroke-width="0.8"/>
<line x1="73.43" y1="366.18" x2="76.63" y2="366.18" stroke="#0d4e8b" stroke-width="0.8"/>
<path d="M61.79 387.05 L62.3 386.83 L62.82 386.58 L63.33 386.28 L63.85 385.94 L64.36 385.54 L64.88 385.08 L65.39 384.56 L65.91 383.97 L66.42 383.3 L66.94 382.55 L67.45 381.72 L67.97 380.81 L68.48 379.81 L69 378.73 L69.51 377.57 L70.03 376.36 L70.54 375.1 L71.06 373.8 L71.57 372.49 L72.09 371.18 L72.6 369.9 L73.12 368.65 L73.63 367.45 L74.15 366.32 L74.66 365.26 L75.18 364.29 L75.69 363.39 L76.21 362.59 L76.72 361.86 L77.24 361.22 L77.75 360.64 L78.27 360.14 L78.78 359.7 L79.3 359.32 L79.81 358.99 L80.33 358.71 L80.84 358.46 L81.36 358.25 L81.87 358.07 L82.39 357.92 L82.9 357.78 L83.42 357.67 L83.93 357.58 L84.45 357.49 L84.96 357.42 L85.48 357.37 L85.99 357.32 L86.51 357.27 L87.02 357.24 L87.54 357.21 L88.05 357.18 L88.57 357.16 L89.08 357.14 L89.6 357.13 L90.11 357.11 L90.63 357.1 L91.14 357.09 L91.66 357.09 L92.17 357.08 L92.69 357.07" fill="none" stroke="#0d4e8b" stroke-width="1.2" stroke-linejoin="round" stroke-linecap="round"/>
<path d="M61.79 391.32 L62.3 391.11 L62.82 390.87 L63.33 390.6 L63.85 390.29 L64.36 389.93 L64.88 389.52 L65.39 389.06 L65.91 388.55 L66.42 387.99 L66.94 387.37 L67.45 386.7 L67.97 385.99 L68.48 385.25 L69 384.47 L69.51 383.68 L70.03 382.88 L70.54 382.09 L71.06 381.32 L71.57 380.58 L72.09 379.87 L72.6 379.21 L73.12 378.61 L73.63 378.05 L74.15 377.54 L74.66 377.09 L75.18 376.69 L75.69 376.34 L76.21 376.03 L76.72 375.77 L77.24 375.53 L77.75 375.33 L78.27 375.16 L78.78 375.02 L79.3 374.89 L79.81 374.78 L80.33 374.69 L80.84 374.62 L81.36 374.55 L81.87 374.5 L82.39 374.45 L82.9 374.41 L83.42 374.38 L83.93 374.35 L84.45 374.33 L84.96 374.31 L85.48 374.29 L85.99 374.28 L86.51 374.26 L87.02 374.26 L87.54 374.25 L88.05 374.24 L88.57 374.23 L89.08 374.23 L89.6 374.22 L90.11 374.22 L90.63 374.22 L91.14 374.22 L91.66 374.21 L92.17 374.21 L92.69 374.21" fill="none" stroke="#c8152f" stroke-width="1.2" stroke-linejoin="round" stroke-linecap="round"/>
<circle cx="61.79" cy="385.83" r="1.9" fill="#0d4e8b"/>
<circle cx="66.2" cy="387.49" r="1.9" fill="#0d4e8b"/>
<circle cx="70.62" cy="374.48" r="1.9" fill="#0d4e8b"/>
<circle cx="75.03" cy="362.85" r="1.9" fill="#0d4e8b"/>
<circle cx="79.45" cy="355.1" r="1.9" fill="#0d4e8b"/>
<circle cx="83.86" cy="358.15" r="1.9" fill="#0d4e8b"/>
<circle cx="88.28" cy="358.56" r="1.9" fill="#0d4e8b"/>
<circle cx="92.69" cy="362.02" r="1.9" fill="#0d4e8b"/>
<path d="M61.79 390.65L63.94 394.52L59.64 394.52Z" fill="#c8152f"/>
<path d="M66.2 390.37L68.35 394.24L64.05 394.24Z" fill="#c8152f"/>
<path d="M70.62 379.3L72.77 383.17L68.47 383.17Z" fill="#c8152f"/>
<path d="M75.03 370.44L77.18 374.31L72.88 374.31Z" fill="#c8152f"/>
<path d="M79.45 374.32L81.6 378.19L77.3 378.19Z" fill="#c8152f"/>
<path d="M83.86 374.04L86.01 377.91L81.71 377.91Z" fill="#c8152f"/>
<path d="M88.28 375.15L90.43 379.02L86.12 379.02Z" fill="#c8152f"/>
<path d="M92.69 372.1L94.84 375.97L90.54 375.97Z" fill="#c8152f"/>
<rect x="77.75" y="351.78" width="3.4" height="6.64" fill="#0d4e8b"/>
<rect x="90.99" y="359.81" width="3.4" height="5.54" fill="#0d4e8b"/>
<text x="63.4" y="408.8" font-size="9.4" textLength="34.3" lengthAdjust="spacingAndGlyphs"><tspan font-style="italic">p</tspan>&lt;0.001</text>
<line x1="127.5" y1="346.04" x2="127.5" y2="416.3" stroke="#231f20" stroke-width="1.05"/>
<line x1="123.7" y1="415.5" x2="127.7" y2="415.5" stroke="#231f20" stroke-width="1"/>
<text x="121.6" y="417.86" font-size="8" text-anchor="end">0</text>
<line x1="123.7" y1="398.26" x2="127.7" y2="398.26" stroke="#231f20" stroke-width="1"/>
<text x="121.6" y="400.62" font-size="8" text-anchor="end">200</text>
<line x1="123.7" y1="381.02" x2="127.7" y2="381.02" stroke="#231f20" stroke-width="1"/>
<text x="121.6" y="383.38" font-size="8" text-anchor="end">400</text>
<line x1="123.7" y1="363.78" x2="127.7" y2="363.78" stroke="#231f20" stroke-width="1"/>
<text x="121.6" y="366.14" font-size="8" text-anchor="end">600</text>
<line x1="123.7" y1="346.54" x2="127.7" y2="346.54" stroke="#231f20" stroke-width="1"/>
<text x="121.6" y="348.9" font-size="8" text-anchor="end">800</text>
<line x1="127.2" y1="415.5" x2="172.32" y2="415.5" stroke="#231f20" stroke-width="1.05"/>
<line x1="136.6" y1="415.8" x2="136.6" y2="418.4" stroke="#231f20" stroke-width="1"/>
<text x="136.6" y="428.1" font-size="7.7" text-anchor="middle">0</text>
<line x1="154.46" y1="415.8" x2="154.46" y2="418.4" stroke="#231f20" stroke-width="1"/>
<text x="154.46" y="428.1" font-size="7.7" text-anchor="middle">2</text>
<line x1="172.32" y1="415.8" x2="172.32" y2="418.4" stroke="#231f20" stroke-width="1"/>
<text x="172.32" y="428.1" font-size="7.7" text-anchor="middle">4</text>
<text x="150.2" y="333.6" font-size="9" text-anchor="middle">AML</text>
<text x="150.2" y="344.9" font-size="9" textLength="38.6" lengthAdjust="spacingAndGlyphs" text-anchor="middle">patient 2</text>
<line x1="145.53" y1="362.57" x2="145.53" y2="358.61" stroke="#0d4e8b" stroke-width="0.8"/>
<line x1="143.93" y1="358.61" x2="147.13" y2="358.61" stroke="#0d4e8b" stroke-width="0.8"/>
<path d="M132.13 390.14 L132.66 389.95 L133.18 389.73 L133.7 389.45 L134.22 389.11 L134.74 388.71 L135.26 388.22 L135.78 387.63 L136.3 386.94 L136.82 386.12 L137.34 385.17 L137.87 384.08 L138.39 382.85 L138.91 381.47 L139.43 379.97 L139.95 378.36 L140.47 376.67 L140.99 374.93 L141.51 373.19 L142.03 371.48 L142.55 369.85 L143.07 368.31 L143.6 366.9 L144.12 365.62 L144.64 364.49 L145.16 363.5 L145.68 362.65 L146.2 361.92 L146.72 361.31 L147.24 360.79 L147.76 360.36 L148.28 360.01 L148.8 359.72 L149.33 359.48 L149.85 359.28 L150.37 359.12 L150.89 358.99 L151.41 358.88 L151.93 358.8 L152.45 358.73 L152.97 358.67 L153.49 358.63 L154.01 358.59 L154.53 358.56 L155.06 358.54 L155.58 358.52 L156.1 358.5 L156.62 358.49 L157.14 358.48 L157.66 358.47 L158.18 358.46 L158.7 358.46 L159.22 358.45 L159.74 358.45 L160.26 358.45 L160.79 358.45 L161.31 358.44 L161.83 358.44 L162.35 358.44 L162.87 358.44 L163.39 358.44" fill="none" stroke="#0d4e8b" stroke-width="1.2" stroke-linejoin="round" stroke-linecap="round"/>
<path d="M132.13 388.3 L132.66 388.19 L133.18 388.07 L133.7 387.91 L134.22 387.73 L134.74 387.51 L135.26 387.24 L135.78 386.93 L136.3 386.56 L136.82 386.13 L137.34 385.62 L137.87 385.03 L138.39 384.37 L138.91 383.61 L139.43 382.77 L139.95 381.86 L140.47 380.87 L140.99 379.82 L141.51 378.73 L142.03 377.63 L142.55 376.53 L143.07 375.45 L143.6 374.42 L144.12 373.45 L144.64 372.55 L145.16 371.74 L145.68 371.01 L146.2 370.37 L146.72 369.8 L147.24 369.32 L147.76 368.9 L148.28 368.55 L148.8 368.25 L149.33 368 L149.85 367.79 L150.37 367.62 L150.89 367.47 L151.41 367.35 L151.93 367.25 L152.45 367.17 L152.97 367.1 L153.49 367.05 L154.01 367 L154.53 366.97 L155.06 366.93 L155.58 366.91 L156.1 366.89 L156.62 366.87 L157.14 366.86 L157.66 366.85 L158.18 366.84 L158.7 366.83 L159.22 366.82 L159.74 366.82 L160.26 366.82 L160.79 366.81 L161.31 366.81 L161.83 366.81 L162.35 366.81 L162.87 366.8 L163.39 366.8" fill="none" stroke="#c8152f" stroke-width="1.2" stroke-linejoin="round" stroke-linecap="round"/>
<circle cx="132.13" cy="391.28" r="1.9" fill="#0d4e8b"/>
<circle cx="136.6" cy="390.85" r="1.9" fill="#0d4e8b"/>
<circle cx="141.06" cy="373.87" r="1.9" fill="#0d4e8b"/>
<circle cx="145.53" cy="362.57" r="1.9" fill="#0d4e8b"/>
<circle cx="150" cy="356.02" r="1.9" fill="#0d4e8b"/>
<circle cx="154.46" cy="358.69" r="1.9" fill="#0d4e8b"/>
<circle cx="158.92" cy="360.76" r="1.9" fill="#0d4e8b"/>
<circle cx="163.39" cy="364.9" r="1.9" fill="#0d4e8b"/>
<path d="M132.13 386.44L134.28 390.31L129.98 390.31Z" fill="#c8152f"/>
<path d="M136.6 386.44L138.75 390.31L134.45 390.31Z" fill="#c8152f"/>
<path d="M141.06 379.2L143.22 383.07L138.91 383.07Z" fill="#c8152f"/>
<path d="M145.53 370.58L147.68 374.45L143.38 374.45Z" fill="#c8152f"/>
<path d="M150 363.08L152.15 366.95L147.84 366.95Z" fill="#c8152f"/>
<path d="M154.46 367.04L156.61 370.91L152.31 370.91Z" fill="#c8152f"/>
<path d="M158.92 368.51L161.07 372.38L156.77 372.38Z" fill="#c8152f"/>
<path d="M163.39 370.58L165.54 374.45L161.24 374.45Z" fill="#c8152f"/>
<text x="136.6" y="411.3" font-size="9.4" textLength="34.3" lengthAdjust="spacingAndGlyphs"><tspan font-style="italic">p</tspan>&lt;0.001</text>
<line x1="199.5" y1="346.48" x2="199.5" y2="416.3" stroke="#231f20" stroke-width="1.05"/>
<line x1="195" y1="415.8" x2="199" y2="415.8" stroke="#231f20" stroke-width="1"/>
<text x="193.3" y="418.16" font-size="8" text-anchor="end">0</text>
<line x1="195" y1="392.86" x2="199" y2="392.86" stroke="#231f20" stroke-width="1"/>
<text x="193.3" y="395.22" font-size="8" text-anchor="end">200</text>
<line x1="195" y1="369.92" x2="199" y2="369.92" stroke="#231f20" stroke-width="1"/>
<text x="193.3" y="372.28" font-size="8" text-anchor="end">400</text>
<line x1="195" y1="346.98" x2="199" y2="346.98" stroke="#231f20" stroke-width="1"/>
<text x="193.3" y="349.34" font-size="8" text-anchor="end">600</text>
<line x1="198.5" y1="415.5" x2="243.5" y2="415.5" stroke="#231f20" stroke-width="1.05"/>
<line x1="207.9" y1="415.8" x2="207.9" y2="418.4" stroke="#231f20" stroke-width="1"/>
<text x="207.9" y="428.1" font-size="7.7" text-anchor="middle">0</text>
<line x1="225.7" y1="415.8" x2="225.7" y2="418.4" stroke="#231f20" stroke-width="1"/>
<text x="225.7" y="428.1" font-size="7.7" text-anchor="middle">2</text>
<line x1="243.5" y1="415.8" x2="243.5" y2="418.4" stroke="#231f20" stroke-width="1"/>
<text x="243.5" y="428.1" font-size="7.7" text-anchor="middle">4</text>
<text x="221.9" y="333.6" font-size="9" text-anchor="middle">AML</text>
<text x="221.9" y="344.9" font-size="9" textLength="38.6" lengthAdjust="spacingAndGlyphs" text-anchor="middle">patient 3</text>
<line x1="230.15" y1="387.93" x2="230.15" y2="375.77" stroke="#c8152f" stroke-width="0.8"/>
<line x1="228.35" y1="375.77" x2="231.95" y2="375.77" stroke="#c8152f" stroke-width="0.8"/>
<line x1="230.15" y1="387.93" x2="230.15" y2="398.94" stroke="#c8152f" stroke-width="0.8"/>
<line x1="228.35" y1="398.94" x2="231.95" y2="398.94" stroke="#c8152f" stroke-width="0.8"/>
<line x1="234.6" y1="378.98" x2="234.6" y2="375.66" stroke="#c8152f" stroke-width="0.8"/>
<line x1="232.8" y1="375.66" x2="236.4" y2="375.66" stroke="#c8152f" stroke-width="0.8"/>
<line x1="234.6" y1="378.98" x2="234.6" y2="382.54" stroke="#c8152f" stroke-width="0.8"/>
<line x1="232.8" y1="382.54" x2="236.4" y2="382.54" stroke="#c8152f" stroke-width="0.8"/>
<path d="M203.45 398.94 C204.19 398.84 206.42 398.92 207.9 398.37 C209.38 397.81 210.87 396.87 212.35 395.61 C213.83 394.35 215.32 392.69 216.8 390.8 C218.28 388.9 219.77 386.82 221.25 384.26 C222.73 381.7 224.22 378.52 225.7 375.43 C227.18 372.33 228.67 368.93 230.15 365.68 C231.63 362.43 233.86 357.55 234.6 355.93" fill="none" stroke="#0d4e8b" stroke-width="1.2" stroke-linecap="round"/>
<path d="M203.45 401.96 L203.97 401.9 L204.49 401.84 L205.01 401.77 L205.53 401.69 L206.05 401.59 L206.56 401.48 L207.08 401.34 L207.6 401.19 L208.12 401.02 L208.64 400.81 L209.16 400.58 L209.68 400.32 L210.2 400.01 L210.72 399.67 L211.24 399.29 L211.76 398.86 L212.28 398.38 L212.8 397.85 L213.31 397.27 L213.83 396.65 L214.35 395.98 L214.87 395.27 L215.39 394.53 L215.91 393.76 L216.43 392.97 L216.95 392.17 L217.47 391.38 L217.99 390.6 L218.51 389.85 L219.03 389.12 L219.54 388.44 L220.06 387.79 L220.58 387.19 L221.1 386.65 L221.62 386.15 L222.14 385.69 L222.66 385.29 L223.18 384.93 L223.7 384.61 L224.22 384.33 L224.74 384.08 L225.25 383.87 L225.77 383.68 L226.29 383.52 L226.81 383.38 L227.33 383.26 L227.85 383.16 L228.37 383.07 L228.89 382.99 L229.41 382.92 L229.93 382.87 L230.45 382.82 L230.97 382.78 L231.49 382.74 L232 382.71 L232.52 382.69 L233.04 382.66 L233.56 382.64 L234.08 382.63 L234.6 382.62" fill="none" stroke="#c8152f" stroke-width="1.2" stroke-linejoin="round" stroke-linecap="round"/>
<circle cx="203.45" cy="398.94" r="1.9" fill="#0d4e8b"/>
<circle cx="207.9" cy="398.6" r="1.9" fill="#0d4e8b"/>
<circle cx="212.35" cy="393.66" r="1.9" fill="#0d4e8b"/>
<circle cx="216.8" cy="387.35" r="1.9" fill="#0d4e8b"/>
<circle cx="221.25" cy="383" r="1.9" fill="#0d4e8b"/>
<circle cx="225.7" cy="375.54" r="1.9" fill="#0d4e8b"/>
<circle cx="230.15" cy="366.02" r="1.9" fill="#0d4e8b"/>
<circle cx="234.6" cy="355.93" r="1.9" fill="#0d4e8b"/>
<path d="M203.45 400.67L205.6 404.54L201.3 404.54Z" fill="#c8152f"/>
<path d="M207.9 400.67L210.05 404.54L205.75 404.54Z" fill="#c8152f"/>
<path d="M212.35 397.92L214.5 401.79L210.2 401.79Z" fill="#c8152f"/>
<path d="M216.8 392.19L218.95 396.06L214.65 396.06Z" fill="#c8152f"/>
<path d="M221.25 389.2L223.4 393.07L219.1 393.07Z" fill="#c8152f"/>
<path d="M225.7 384.39L227.85 388.26L223.55 388.26Z" fill="#c8152f"/>
<path d="M230.15 386.11L232.3 389.98L228 389.98Z" fill="#c8152f"/>
<path d="M234.6 377.16L236.75 381.03L232.45 381.03Z" fill="#c8152f"/>
<text x="205.9" y="411.6" font-size="9.4" textLength="34.3" lengthAdjust="spacingAndGlyphs"><tspan font-style="italic">p</tspan>&lt;0.001</text>
<line x1="243.9" y1="369.5" x2="254.5" y2="369.5" stroke="#c8152f" stroke-width="1.1"/>
<path d="M249.2 366.69L251.8 371.37L246.6 371.37Z" fill="#c8152f"/>
<text x="258.7" y="372.2" font-size="7.7" textLength="24.3" lengthAdjust="spacingAndGlyphs">Isotype</text>
<line x1="243.9" y1="382.9" x2="254.5" y2="382.9" stroke="#0d4e8b" stroke-width="1.1"/>
<circle cx="249.2" cy="382.9" r="2.6" fill="#0d4e8b"/>
<text x="258.7" y="384" font-size="7.7" textLength="13.1" lengthAdjust="spacingAndGlyphs" fill="#0d4e8b">7C6</text>
<text x="258.7" y="392.5" font-size="7.7" textLength="24.3" lengthAdjust="spacingAndGlyphs" fill="#0d4e8b">-DANA</text>
<text transform="translate(24.5 381.25) rotate(-90)" x="0" y="0" font-size="9.2" textLength="70.5" lengthAdjust="spacingAndGlyphs" text-anchor="middle">Surface MICA/B (MFI)</text>
<text x="82.8" y="440.7" font-size="8.8" textLength="136" lengthAdjust="spacingAndGlyphs">Log<tspan font-size="7.4" dy="2.3">10</tspan><tspan dy="-2.3"> romidepsin concentration (nmol/L)</tspan></text>
</svg>
</body></html>
